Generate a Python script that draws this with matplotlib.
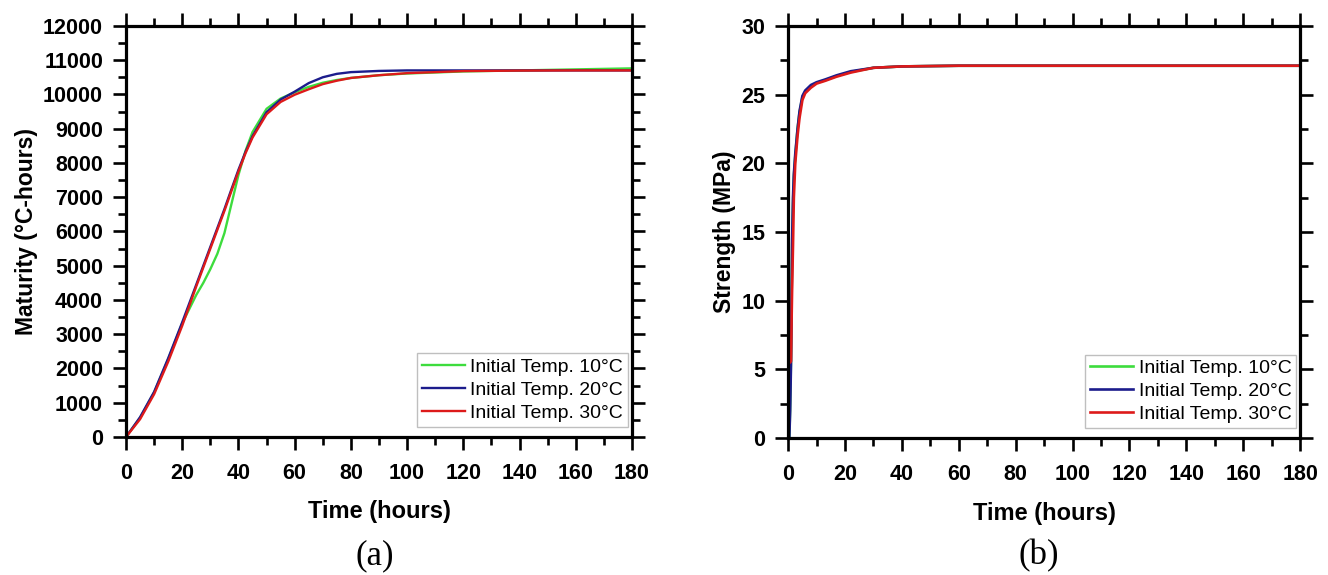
import numpy as np
import matplotlib
matplotlib.use("Agg")
import matplotlib.pyplot as plt
from matplotlib.ticker import MultipleLocator

plt.rcParams['font.family'] = ['Liberation Sans', 'DejaVu Sans']

# (a) maturity, degC-hours
t_mat = [0, 5, 10, 15, 20, 25, 27.5, 30, 32.5, 35, 37.5, 40, 42.5, 45, 50, 55, 60, 65, 70, 75, 80, 90, 100, 120, 140, 160, 180]
mat_10 = [0, 560, 1300, 2270, 3320, 4150, 4500, 4900, 5350, 5950, 6800, 7650, 8350, 8900, 9580, 9880, 10060, 10220, 10340, 10420, 10480, 10560, 10610, 10670, 10700, 10730, 10760]
mat_20 = [0, 580, 1320, 2300, 3350, 4450, 5000, 5550, 6100, 6650, 7230, 7800, 8320, 8780, 9480, 9850, 10080, 10330, 10500, 10600, 10650, 10685, 10700, 10700, 10700, 10700, 10700]
mat_30 = [0, 520, 1250, 2200, 3250, 4400, 4950, 5500, 6050, 6600, 7180, 7750, 8280, 8740, 9420, 9780, 9990, 10150, 10300, 10400, 10480, 10560, 10620, 10680, 10695, 10700, 10700]

# (b) strength, MPa
t_str = [0.4, 0.7, 1.0, 1.2, 1.4, 1.7, 2.0, 2.5, 3.3, 4, 5, 6, 8, 10, 13, 17, 22, 30, 40, 60, 100, 180]
str_10 = [0, 2.5, 6, 10, 14, 17, 19, 20.5, 22.5, 23.7, 24.8, 25.2, 25.6, 25.85, 26.05, 26.35, 26.65, 26.95, 27.05, 27.1, 27.1, 27.1]
str_20 = [0, 2, 5.5, 10, 14.5, 17.5, 19.2, 20.7, 22.5, 23.8, 24.9, 25.3, 25.7, 25.9, 26.1, 26.4, 26.7, 26.95, 27.05, 27.1, 27.1, 27.1]
str_30 = [5.5, 5.5, 5.6, 8.5, 11, 14, 17.5, 20, 22, 23.3, 24.6, 25.1, 25.5, 25.8, 26.0, 26.3, 26.6, 26.95, 27.05, 27.1, 27.1, 27.1]

labels = ['Initial Temp. 10°C', 'Initial Temp. 20°C', 'Initial Temp. 30°C']
colors = ['#3ddc3d', '#1c1c8c', '#dd1a1a']

fig = plt.figure(figsize=(13.28, 5.75), dpi=100)
ax1 = fig.add_axes([0.0949, 0.240, 0.381, 0.715])
ax2 = fig.add_axes([0.5935, 0.238, 0.3855, 0.717])


def style(ax, ymax, ymaj, ymin, ylabel):
    ax.set_xlim(0, 180)
    ax.set_ylim(0, ymax)
    ax.xaxis.set_major_locator(MultipleLocator(20))
    ax.xaxis.set_minor_locator(MultipleLocator(10))
    ax.yaxis.set_major_locator(MultipleLocator(ymaj))
    ax.yaxis.set_minor_locator(MultipleLocator(ymin))
    for s in ax.spines.values():
        s.set_linewidth(2.3)
    ax.tick_params(which='both', direction='out', top=True, right=True, width=1.9)
    ax.tick_params(which='major', length=9.5)
    ax.tick_params(which='minor', length=5.5)
    ax.tick_params(axis='y', pad=7)
    ax.tick_params(axis='x', pad=9)
    ax.tick_params(labeltop=False, labelright=False)
    for lb in ax.get_xticklabels() + ax.get_yticklabels():
        lb.set_fontweight('bold')
        lb.set_fontsize(15.5)
    ax.set_xlabel('Time (hours)', fontsize=17, fontweight='bold', labelpad=12)
    ax.set_ylabel(ylabel, fontsize=16.5, fontweight='bold', labelpad=4)


for y, c, lab in zip([mat_10, mat_20, mat_30], colors, labels):
    ax1.plot(t_mat, y, color=c, lw=1.7, label=lab)
for y, c, lab in zip([str_10, str_20, str_30], colors, labels):
    ax2.plot(t_str, y, color=c, lw=1.9, label=lab)

style(ax1, 12000, 1000, 500, 'Maturity (°C-hours)')
style(ax2, 30, 5, 2.5, 'Strength (MPa)')

for ax in (ax1, ax2):
    leg = ax.legend(loc='lower right', bbox_to_anchor=(1.0, 0.015), fontsize=14,
                    frameon=True, fancybox=False, edgecolor='#b0b0b0',
                    handlelength=2.2, handletextpad=0.3, labelspacing=0.28,
                    borderpad=0.25, borderaxespad=0.2)
    leg.get_frame().set_linewidth(1.0)

fig.text(0.2825, 0.018, '(a)', family='Liberation Serif', fontsize=25, ha='center')
fig.text(0.782, 0.018, '(b)', family='Liberation Serif', fontsize=25, ha='center')

fig.savefig('out.png', dpi=100)
